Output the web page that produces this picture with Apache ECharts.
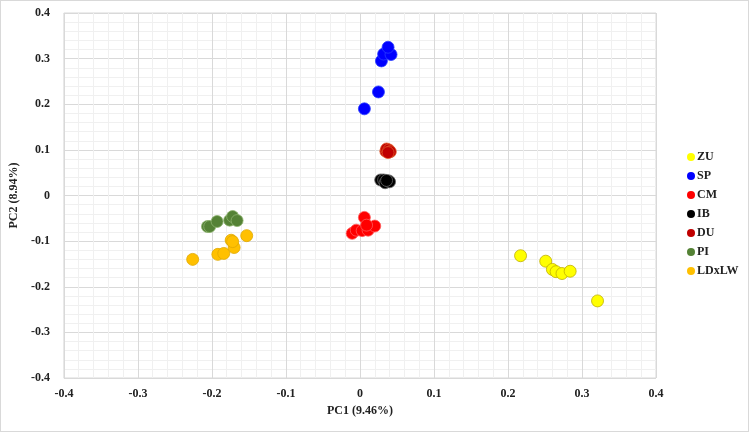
<!DOCTYPE html>
<html>
<head>
<meta charset="utf-8">
<script src="https://cdn.jsdelivr.net/npm/echarts@6/dist/echarts.min.js"></script>
<style>
html,body{margin:0;padding:0;background:#fff;}
#frame{position:absolute;left:0;top:0;width:749px;height:432px;box-sizing:border-box;border:1px solid #d9d9d9;}
#chart{position:absolute;left:0;top:0;width:749px;height:432px;}
</style>
</head>
<body>
<div id="frame"></div>
<div id="chart"></div>
<script>
const groupNames = ['ZU', 'SP', 'CM', 'IB', 'DU', 'PI', 'LDxLW'];
const ZU = [[0.217,-0.132],[0.251,-0.144],[0.260,-0.162],[0.265,-0.167],[0.273,-0.171],[0.284,-0.166],[0.321,-0.231]];
const SP = [[0.006,0.190],[0.025,0.227],[0.029,0.295],[0.032,0.310],[0.042,0.309],[0.038,0.325]];
const CM = [[0.006,-0.048],[-0.0105,-0.083],[-0.005,-0.076],[0.003,-0.077],[0.011,-0.076],[0.020,-0.067],[0.009,-0.065]];
const IB = [[0.028,0.034],[0.032,0.034],[0.034,0.028],[0.039,0.032],[0.040,0.030],[0.036,0.033]];
const DU = [[0.035,0.097],[0.036,0.102],[0.039,0.100],[0.041,0.096],[0.038,0.094]];
const PI = [[-0.206,-0.068],[-0.203,-0.068],[-0.193,-0.057],[-0.176,-0.054],[-0.172,-0.046],[-0.166,-0.055]];
const LDxLW = [[-0.226,-0.140],[-0.192,-0.129],[-0.184,-0.127],[-0.170,-0.114],[-0.174,-0.098],[-0.172,-0.101],[-0.153,-0.088]];
const seriesData = [ZU, SP, CM, IB, DU, PI, LDxLW];
const colors = ['#FFFF00', '#0000FF', '#FF0000', '#000000', '#C00000', '#548235', '#FFC000'];
const borders = ['#BFAF00', '#2a3cff', '#ff5a5a', '#666666', '#e05a2a', '#8db36e', '#e0a800'];

const chart = echarts.init(document.getElementById('chart'));
const labelFont = {fontFamily: 'Liberation Serif', fontWeight: 'bold', fontSize: 12, color: '#222'};
chart.setOption({
  animation: false,
  grid: {left: 63, right: 93, top: 13, bottom: 54, show: true, borderColor: '#d9d9d9', borderWidth: 1},
  legend: {
    orient: 'vertical', left: 682, top: 146,
    itemWidth: 8, itemHeight: 8, itemGap: 7,
    icon: 'circle',
    data: groupNames,
    itemStyle: {borderWidth: 0},
    textStyle: {fontFamily: 'Liberation Serif', fontWeight: 'bold', fontSize: 12, color: '#222', padding: [0,0,0,-3]}
  },
  xAxis: {
    type: 'value', min: -0.4, max: 0.4, interval: 0.1,
    name: 'PC1 (9.46%)', nameLocation: 'middle', nameGap: 25,
    nameTextStyle: labelFont,
    axisLine: {show: false}, axisTick: {show: false},
    axisLabel: Object.assign({margin: 10, formatter: v => +v.toFixed(1) + ''}, labelFont),
    splitLine: {show: true, lineStyle: {color: '#d9d9d9', width: 1}},
    minorTick: {show: false, splitNumber: 5},
    minorSplitLine: {show: true, lineStyle: {color: '#f0f0f0', width: 1}}
  },
  yAxis: {
    type: 'value', min: -0.4, max: 0.4, interval: 0.1,
    name: 'PC2 (8.94%)', nameLocation: 'middle', nameGap: 40, nameRotate: 90,
    nameTextStyle: labelFont,
    axisLine: {show: false}, axisTick: {show: false},
    axisLabel: Object.assign({margin: 14, formatter: v => +v.toFixed(1) + ''}, labelFont),
    splitLine: {show: true, lineStyle: {color: '#d9d9d9', width: 1}},
    minorTick: {show: false, splitNumber: 5},
    minorSplitLine: {show: true, lineStyle: {color: '#f0f0f0', width: 1}}
  },
  series: groupNames.map((n, i) => ({
    name: n, type: 'scatter', data: seriesData[i], symbolSize: 12,
    itemStyle: {color: colors[i], borderColor: borders[i], borderWidth: 0.8, opacity: 1}
  }))
});
</script>
</body>
</html>
